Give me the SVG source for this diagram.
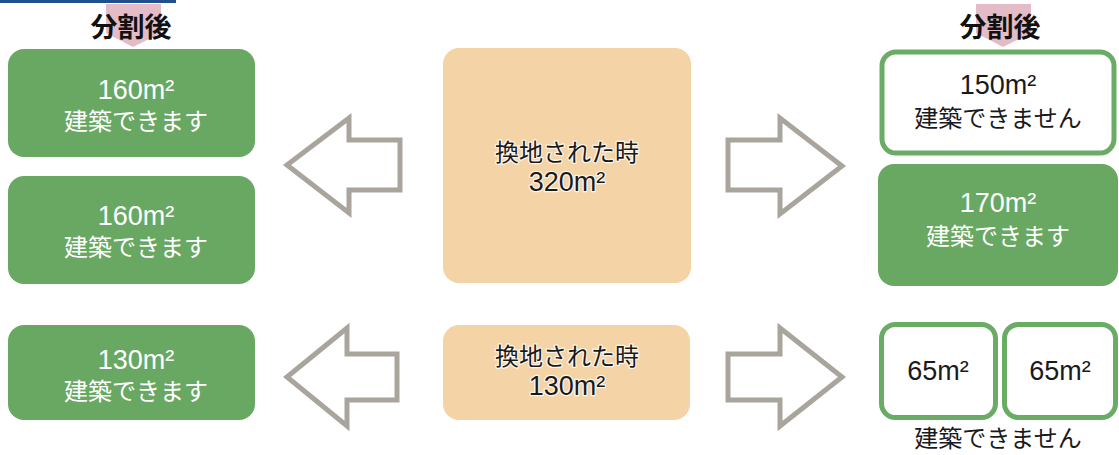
<svg xmlns="http://www.w3.org/2000/svg" width="1119" height="455" viewBox="0 0 1119 455">
<style>
.t{font-family:"Noto Sans CJK JP","Noto Sans",sans-serif;font-size:24px;text-anchor:middle}
.n{font-family:"Liberation Sans",Arial,sans-serif;font-size:27px;text-anchor:middle}
.w{fill:#ffffff}
.k{fill:#1a1a1a}
.kh{fill:#1a1a1a;stroke:#fff6ea;stroke-width:2.5;paint-order:stroke;stroke-linejoin:round}
.h{font-family:"Noto Sans CJK JP",sans-serif;font-size:27px;font-weight:700;text-anchor:middle;fill:#111}
.g{fill:#69a863}
.o{fill:#ffffff;stroke:#6aab66;stroke-width:5}
.b{fill:#f4d3a6}
.a{fill:#ffffff;stroke:#a9a59d;stroke-width:5;stroke-linejoin:miter}
.tab{fill:#e3bcc8}
</style>
<rect x="0" y="0" width="176" height="3" fill="#1f4f8c"/>
<g id="header-left">
<polygon class="tab" points="106,4 161,4 161,33 133,47 106,33"/>
<text class="h" x="131" y="37">分割後</text>
</g>
<g id="header-right">
<polygon class="tab" points="976,4 1031,4 1031,33 1003,47 976,33"/>
<text class="h" x="1000" y="37">分割後</text>
</g>
<g id="left-160a">
<rect class="g" x="8" y="49" width="247" height="108" rx="16"/>
<text class="n w" x="136" y="99">160m²</text>
<text class="t w" x="136" y="130">建築できます</text>
</g>
<g id="left-160b">
<rect class="g" x="8" y="176" width="247" height="108" rx="16"/>
<text class="n w" x="136" y="225">160m²</text>
<text class="t w" x="136" y="256">建築できます</text>
</g>
<g id="left-130">
<rect class="g" x="8" y="325" width="247" height="95" rx="16"/>
<text class="n w" x="136" y="369">130m²</text>
<text class="t w" x="136" y="400">建築できます</text>
</g>
<g id="center-320">
<rect class="b" x="443" y="48" width="248" height="235" rx="16"/>
<text class="t kh" x="567" y="161">換地された時</text>
<text class="n kh" x="567" y="191">320m²</text>
</g>
<g id="center-130">
<rect class="b" x="443" y="325" width="247" height="95" rx="16"/>
<text class="t kh" x="567" y="365">換地された時</text>
<text class="n kh" x="567" y="395">130m²</text>
</g>
<g id="right-150">
<rect class="o" x="882" y="52" width="232" height="101" rx="14"/>
<text class="n k" x="998" y="94">150m²</text>
<text class="t k" x="998" y="127">建築できません</text>
</g>
<g id="right-170">
<rect class="g" x="878" y="164" width="240" height="122" rx="16"/>
<text class="n w" x="998" y="212">170m²</text>
<text class="t w" x="998" y="245">建築できます</text>
</g>
<g id="right-65a">
<rect class="o" x="881.5" y="324.5" width="114" height="93" rx="14"/>
<text class="n k" x="938" y="380">65m²</text>
</g>
<g id="right-65b">
<rect class="o" x="1004.5" y="324.5" width="111" height="93" rx="14"/>
<text class="n k" x="1060" y="380">65m²</text>
</g>
<text class="t k" x="998" y="447">建築できません</text>
<g id="connectors">
<polygon class="a" points="287,165 349,118 349,140 400,140 400,190 349,190 349,213"/>
<polygon class="a" points="842,166 780,118 780,140 728,140 728,190 780,190 780,214"/>
<polygon class="a" points="287,377 347,328 347,354 397,354 397,400 347,400 347,426"/>
<polygon class="a" points="842,377 780,328 780,354 728,354 728,400 780,400 780,426"/>
</g>
</svg>
